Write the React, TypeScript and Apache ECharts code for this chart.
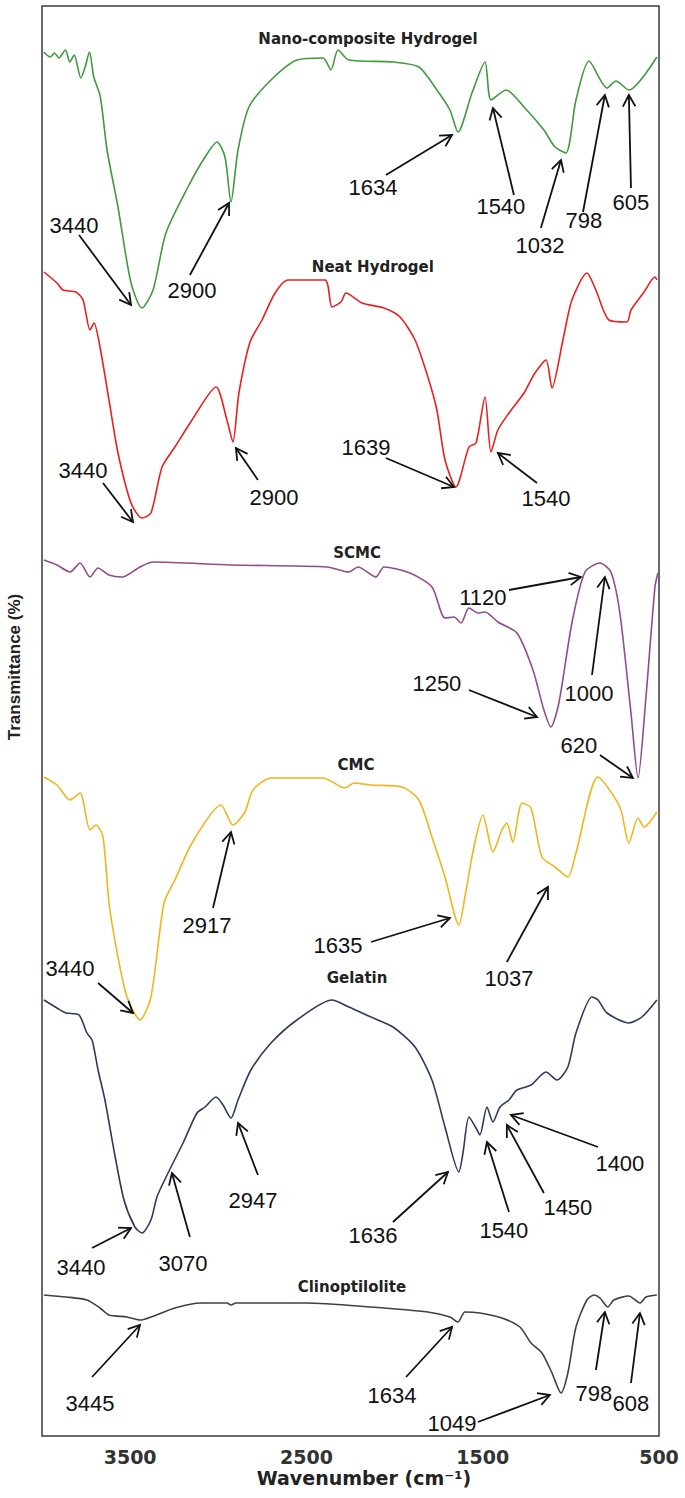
import React, { useEffect, useRef } from 'react';
import * as echarts from 'echarts';

// [wavenumber (cm-1), stacked transmittance (a.u.)]
const nanoCompositeHydrogel: [number, number][] = [
  [3990, 1384], [3953, 1379], [3929, 1383], [3904, 1378], [3867, 1386], [3842, 1374], [3817, 1381],
  [3780, 1358], [3755, 1369], [3731, 1384], [3706, 1359], [3669, 1339], [3631, 1286], [3569, 1229],
  [3495, 1153], [3433, 1128], [3370, 1146], [3297, 1203], [3172, 1249], [3075, 1279], [3007, 1294],
  [2962, 1279], [2928, 1234], [2888, 1286], [2826, 1329], [2701, 1356], [2554, 1376], [2406, 1378],
  [2361, 1366], [2321, 1386], [2259, 1376], [2009, 1374], [1862, 1369], [1760, 1346], [1686, 1326],
  [1640, 1304], [1561, 1343], [1487, 1374], [1453, 1336], [1368, 1346], [1266, 1329], [1153, 1306],
  [1090, 1289], [1028, 1283], [971, 1336], [897, 1375], [795, 1348], [744, 1355], [671, 1346], [512, 1379],
];

const neatHydrogel: [number, number][] = [
  [3989, 1164], [3915, 1153], [3881, 1146], [3807, 1144], [3767, 1136], [3728, 1106], [3705, 1113],
  [3671, 1089], [3620, 1036], [3569, 983], [3495, 933], [3433, 918], [3382, 923], [3319, 969],
  [3246, 989], [3149, 1016], [3013, 1049], [2951, 1016], [2917, 994], [2883, 1043], [2820, 1094],
  [2752, 1116], [2678, 1143], [2605, 1156], [2395, 1156], [2355, 1129], [2304, 1134], [2276, 1143],
  [2185, 1133], [2060, 1128], [1969, 1119], [1884, 1096], [1811, 1059], [1760, 1026], [1714, 976],
  [1652, 949], [1578, 989], [1538, 993], [1487, 1039], [1453, 984], [1414, 1006], [1351, 1023],
  [1266, 1043], [1204, 1063], [1141, 1076], [1107, 1048], [1045, 1096], [994, 1136], [909, 1163],
  [858, 1146], [784, 1116], [682, 1114], [659, 1126], [585, 1144], [523, 1159], [512, 1156],
];

const scmc: [number, number][] = [
  [3989, 876], [3915, 871], [3841, 864], [3784, 873], [3728, 859], [3682, 868], [3620, 861],
  [3546, 859], [3444, 869], [3370, 874], [2928, 871], [2383, 869], [2259, 864], [2208, 869],
  [2106, 859], [2060, 869], [1913, 863], [1788, 849], [1714, 818], [1663, 819], [1623, 813],
  [1578, 828], [1527, 823], [1487, 824], [1414, 814], [1306, 803], [1215, 766], [1153, 726],
  [1113, 709], [1068, 733], [994, 813], [920, 864], [835, 873], [773, 864], [722, 823], [659, 723],
  [619, 658], [574, 739], [523, 849], [506, 863],
];

const cmc: [number, number][] = [
  [3989, 659], [3915, 651], [3841, 636], [3784, 643], [3728, 606], [3694, 611], [3654, 599],
  [3620, 533], [3569, 479], [3518, 439], [3444, 416], [3382, 439], [3308, 533], [3246, 556],
  [3149, 593], [2985, 631], [2917, 611], [2849, 624], [2803, 646], [2701, 658], [2406, 658],
  [2281, 648], [2230, 653], [2134, 651], [1958, 649], [1862, 636], [1788, 599], [1714, 559],
  [1635, 511], [1601, 539], [1550, 589], [1499, 621], [1442, 584], [1391, 606], [1363, 613],
  [1329, 594], [1277, 633], [1226, 628], [1164, 579], [1090, 569], [1017, 559], [971, 583],
  [846, 659], [722, 629], [671, 593], [619, 618], [585, 609], [512, 624],
];

const gelatin: [number, number][] = [
  [3989, 436], [3915, 428], [3864, 423], [3790, 421], [3745, 403], [3716, 396], [3682, 366],
  [3643, 336], [3592, 286], [3535, 236], [3473, 209], [3433, 203], [3382, 216], [3348, 239],
  [3285, 263], [3200, 293], [3121, 323], [3075, 329], [3013, 339], [2973, 331], [2928, 318],
  [2888, 336], [2815, 366], [2701, 393], [2554, 416], [2355, 436], [2259, 429], [2134, 419],
  [2009, 409], [1884, 389], [1788, 356], [1714, 309], [1635, 264], [1612, 283], [1578, 319],
  [1538, 308], [1516, 301], [1476, 329], [1442, 314], [1402, 329], [1351, 336], [1306, 346],
  [1226, 351], [1141, 364], [1079, 356], [1017, 369], [971, 403], [880, 439], [846, 436],
  [795, 423], [671, 413], [597, 419], [512, 436],
];

const clinoptilolite: [number, number][] = [
  [3989, 141], [3864, 139], [3745, 136], [3671, 128], [3620, 121], [3518, 119], [3444, 116],
  [3382, 119], [3246, 128], [3098, 133], [2951, 133], [2928, 131], [2900, 133], [2503, 133],
  [2134, 129], [1811, 124], [1686, 119], [1640, 114], [1601, 124], [1516, 123], [1391, 118],
  [1289, 109], [1226, 93], [1164, 83], [1107, 63], [1056, 43], [1017, 63], [971, 109],
  [909, 136], [869, 141], [835, 138], [790, 129], [756, 136], [671, 140], [608, 133],
  [574, 139], [512, 141],
];

const spectraNames = ['Nano-composite Hydrogel', 'Neat Hydrogel', 'SCMC', 'CMC', 'Gelatin', 'Clinoptilolite'];
const spectraColors = ['#3f9b3c', '#e8201f', '#8f4d8e', '#f4b41f', '#2e3a5c', '#404040'];
const spectraData = [nanoCompositeHydrogel, neatHydrogel, scmc, cmc, gelatin, clinoptilolite];

// [label wavenumber, label value] for each spectrum title
const titlePositions: [number, number][] = [
  [2151, 1397], [2123, 1169], [2213, 883], [2219, 671], [2213, 458], [2242, 149],
];

// [text, text wn, text value, arrow tail wn, tail value, arrow tip wn, tip value]
type Peak = [string, number, number, number, number, number, number];

const nanoPeaks: Peak[] = [
  ['3440', 3819, 1211, 3790, 1201, 3495, 1131],
  ['2900', 3149, 1146, 3161, 1161, 2939, 1233],
  ['1634', 2123, 1249, 2049, 1261, 1674, 1301],
  ['1540', 1397, 1230, 1323, 1241, 1442, 1328],
  ['1032', 1175, 1191, 1170, 1208, 1056, 1276],
  ['798', 926, 1216, 931, 1224, 807, 1341],
  ['605', 659, 1234, 659, 1248, 671, 1341],
];

const neatPeaks: Peak[] = [
  ['3440', 3767, 966, 3654, 953, 3484, 914],
  ['2900', 2684, 939, 2775, 956, 2900, 988],
  ['1639', 2162, 989, 2049, 978, 1663, 949],
  ['1540', 1141, 938, 1192, 953, 1414, 983],
];

const scmcPeaks: Peak[] = [
  ['1120', 1499, 839, 1351, 846, 943, 859],
  ['1250', 1760, 753, 1578, 746, 1192, 719],
  ['1000', 897, 743, 880, 761, 807, 859],
  ['620', 954, 691, 835, 681, 648, 658],
];

const cmcPeaks: Peak[] = [
  ['2917', 3064, 511, 3030, 528, 2928, 604],
  ['1635', 2321, 491, 2134, 494, 1686, 518],
  ['1037', 1351, 458, 1363, 474, 1130, 549],
  ['3440', 3841, 468, 3682, 453, 3484, 423],
];

const gelatinPeaks: Peak[] = [
  ['3440', 3779, 169, 3716, 188, 3495, 208],
  ['3070', 3200, 173, 3161, 199, 3263, 263],
  ['2947', 2803, 236, 2775, 261, 2888, 313],
  ['1636', 2123, 201, 2009, 214, 1697, 264],
  ['1540', 1380, 206, 1351, 224, 1476, 294],
  ['1450', 1017, 229, 1153, 243, 1363, 311],
  ['1400', 722, 273, 846, 289, 1340, 321],
];

const clinoPeaks: Peak[] = [
  ['3445', 3728, 33, 3716, 59, 3444, 111],
  ['1634', 2015, 41, 1935, 59, 1674, 109],
  ['1049', 1674, 13, 1527, 14, 1119, 41],
  ['798', 869, 43, 858, 66, 807, 124],
  ['608', 659, 33, 659, 53, 608, 123],
];

const xTickLabels = [3500, 2500, 1500, 500];

export default function App() {
  const ref = useRef<HTMLDivElement>(null);

  useEffect(() => {
    if (!ref.current) return;
    const chart = echarts.init(ref.current, null, { renderer: 'svg' });
    const peaks: Peak[] = [...nanoPeaks, ...neatPeaks, ...scmcPeaks, ...cmcPeaks, ...gelatinPeaks, ...clinoPeaks];

    const lineSeries = spectraData.map((d, i) => ({
      type: 'line',
      name: spectraNames[i],
      data: d,
      showSymbol: false,
      smooth: 0.25,
      silent: true,
      lineStyle: { color: spectraColors[i], width: 1.6 },
      itemStyle: { color: spectraColors[i] },
      z: 2,
    }));

    chart.setOption({
      animation: false,
      grid: {
        left: 42, right: 26, top: 6, bottom: 62,
        show: true, borderColor: '#3a3a3a', borderWidth: 1.5, backgroundColor: '#ffffff',
      },
      xAxis: {
        type: 'value', min: 500, max: 4000, inverse: true,
        axisLine: { show: false }, axisTick: { show: false }, splitLine: { show: false },
        axisLabel: {
          customValues: xTickLabels,
          formatter: (v: number) => String(v),
          fontFamily: 'DejaVu Sans', fontWeight: 'bold', fontSize: 19, color: '#333', margin: 11,
        },
      },
      yAxis: {
        type: 'value', min: 0, max: 1430, show: false, splitLine: { show: false },
      },
      series: [
        ...lineSeries,
        {
          type: 'custom',
          silent: true,
          z: 10,
          data: peaks.map((p) => [p[1], p[2], p[3], p[4], p[5], p[6]]),
          renderItem: (params: any, api: any) => {
            const p = peaks[params.dataIndex];
            const t = api.coord([p[1], p[2]]);
            const a = api.coord([p[3], p[4]]);
            const b = api.coord([p[5], p[6]]);
            const ang = Math.atan2(b[1] - a[1], b[0] - a[0]);
            const L = 13;
            const sp = 0.5;
            const h1 = [b[0] - L * Math.cos(ang - sp), b[1] - L * Math.sin(ang - sp)];
            const h2 = [b[0] - L * Math.cos(ang + sp), b[1] - L * Math.sin(ang + sp)];
            return {
              type: 'group',
              children: [
                { type: 'line', shape: { x1: a[0], y1: a[1], x2: b[0], y2: b[1] }, style: { stroke: '#111', lineWidth: 1.8 } },
                { type: 'polyline', shape: { points: [h1, b, h2] }, style: { stroke: '#111', lineWidth: 1.8, fill: 'none' } },
                {
                  type: 'text', x: t[0], y: t[1],
                  style: {
                    text: p[0], fontSize: 22, fontFamily: 'Liberation Sans', fill: '#111',
                    align: 'center', verticalAlign: 'middle', textAlign: 'center', textVerticalAlign: 'middle',
                  },
                },
              ],
            };
          },
        },
        {
          type: 'custom',
          silent: true,
          z: 11,
          data: titlePositions,
          renderItem: (params: any, api: any) => {
            const c = api.coord([api.value(0), api.value(1)]);
            return {
              type: 'text', x: c[0], y: c[1],
              style: {
                text: spectraNames[params.dataIndex], fontSize: 15, fontWeight: 'bold', fontFamily: 'DejaVu Sans',
                fill: '#222', align: 'center', verticalAlign: 'middle', textAlign: 'center', textVerticalAlign: 'middle',
              },
            };
          },
        },
      ],
      graphic: [
        {
          type: 'text', x: 14, y: 667, rotation: Math.PI / 2,
          style: {
            text: 'Transmittance (%)', fontSize: 17, fontWeight: 'bold', fontFamily: 'Liberation Sans',
            fill: '#222', align: 'center', verticalAlign: 'middle', textAlign: 'center', textVerticalAlign: 'middle',
          },
        },
        {
          type: 'text', x: 364, y: 1478,
          style: {
            text: 'Wavenumber (cm⁻¹)', fontSize: 19, fontWeight: 'bold', fontFamily: 'DejaVu Sans',
            fill: '#222', align: 'center', verticalAlign: 'middle', textAlign: 'center', textVerticalAlign: 'middle',
          },
        },
      ],
    });
    return () => chart.dispose();
  }, []);

  return <div ref={ref} style={{ position: 'absolute', left: 0, top: 0, width: 685, height: 1498 }} />;
}
